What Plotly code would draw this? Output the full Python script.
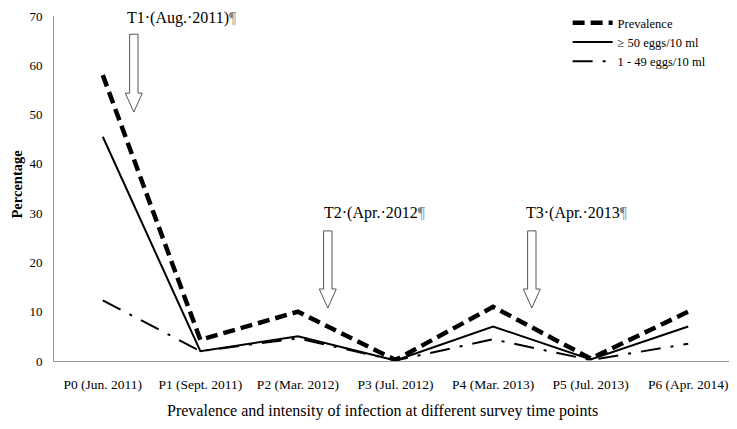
import plotly.graph_objects as go

categories = ["P0 (Jun. 2011)", "P1 (Sept. 2011)", "P2 (Mar. 2012)", "P3 (Jul. 2012)",
              "P4 (Mar. 2013)", "P5 (Jul. 2013)", "P6 (Apr. 2014)"]
prevalence = [58, 4.3, 10, 0.2, 11, 0.5, 10]
heavy = [45.5, 2, 5, 0.1, 7, 0.3, 7]
light = [12.3, 2, 4.6, 0.1, 4.4, 0.2, 3.5]
series_names = ["Prevalence", "\u2265 50 eggs/10 ml", "1 - 49 eggs/10 ml"]
y_ticks = [0, 10, 20, 30, 40, 50, 60, 70]

treatments = ["T1\u00b7(Aug.\u00b72011)", "T2\u00b7(Apr.\u00b72012", "T3\u00b7(Apr.\u00b72013"]
arrow_x = [0.318, 2.306, 4.397]       # category-axis position of arrows
arrow_top = [66.3, 26.4, 26.4]
arrow_tip = [50.5, 10.75, 10.75]
label_x = [0.225, 2.245, 4.315]
label_y = [69.6, 30.0, 30.0]

FONT = "Liberation Serif"
xs = list(range(len(categories)))

W, H = 729, 421
ML, MR, MT, MB = 46, 0, 8, 68
PW, PH = W - ML - MR, H - MT - MB

fig = go.Figure()
fig.add_trace(go.Scatter(x=xs, y=prevalence, mode="lines", name=series_names[0],
                         line=dict(color="black", width=4.5, dash="12px,6px")))
fig.add_trace(go.Scatter(x=xs, y=heavy, mode="lines", name=series_names[1],
                         line=dict(color="black", width=2)))
fig.add_trace(go.Scatter(x=xs, y=light, mode="lines", name=series_names[2],
                         line=dict(color="black", width=2, dash="20px,10px,3px,10px")))

# hollow block arrows
px_x = PW / 7.0
px_y = PH / 70.0
sw = 4.2 / px_x
hw = 8.5 / px_x
hh = 19 / px_y
for ax, top, tip in zip(arrow_x, arrow_top, arrow_tip):
    path = (f"M {ax-sw},{top} L {ax+sw},{top} L {ax+sw},{tip+hh} L {ax+hw},{tip+hh} "
            f"L {ax},{tip} L {ax-hw},{tip+hh} L {ax-sw},{tip+hh} Z")
    fig.add_shape(type="path", path=path, xref="x", yref="y",
                  line=dict(color="#555555", width=1), fillcolor="white")
for lx, ly, txt in zip(label_x, label_y, treatments):
    fig.add_annotation(x=lx, y=ly, xref="x", yref="y",
                       text=txt + "<span style='color:#888888'>\u00b6</span>",
                       showarrow=False, xanchor="left", yanchor="middle",
                       font=dict(family=FONT, size=16, color="black"))

# axis titles
fig.add_annotation(x=0.5, y=-39 / PH, xref="paper", yref="paper", xshift=-13,
                   text="Prevalence and intensity of infection at different survey time points",
                   showarrow=False, xanchor="center", yanchor="top",
                   font=dict(family=FONT, size=16, color="black"))
fig.add_annotation(x=0, y=0.5, xref="paper", yref="paper", xshift=-38, yshift=4,
                   text="<b>Percentage</b>", textangle=-90,
                   showarrow=False, xanchor="center", yanchor="middle",
                   font=dict(family=FONT, size=14.5, color="black"))

fig.update_layout(
    width=W, height=H,
    margin=dict(l=ML, r=MR, t=MT, b=MB, autoexpand=False),
    plot_bgcolor="white", paper_bgcolor="white",
    font=dict(family=FONT, color="black"),
    showlegend=True,
    legend=dict(x=0.752, y=1.0, xanchor="left", yanchor="top", yref="container",
                font=dict(family=FONT, size=12.5, color="black"),
                bgcolor="rgba(0,0,0,0)", tracegroupgap=0, itemwidth=40),
    xaxis=dict(range=[-0.5, 6.5], tickvals=xs, ticktext=categories, automargin=False,
               showgrid=False, zeroline=False, showline=True, linecolor="#999999",
               linewidth=1, ticks="", ticklabelstandoff=11,
               tickfont=dict(family=FONT, size=13.5, color="black")),
    yaxis=dict(range=[0, 70], tickvals=y_ticks, automargin=False,
               showgrid=False, zeroline=False, showline=True, linecolor="#999999",
               linewidth=1, ticks="", ticklabelstandoff=8,
               tickfont=dict(family=FONT, size=13, color="black")),
)

fig.write_html("out.html")
